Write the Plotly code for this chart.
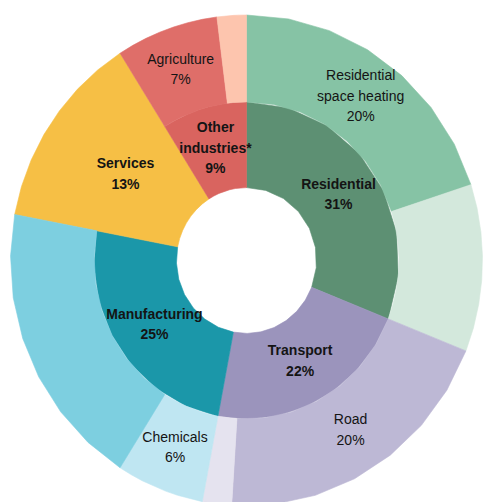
import numpy as np
import plotly.graph_objects as go

# Inner ring: sectors
sectors = ["Residential", "Transport", "Manufacturing", "Services", "Other industries*"]
sector_lines = [["Residential"], ["Transport"], ["Manufacturing"], ["Services"], ["Other", "industries*"]]
sector_values = [31, 22, 25, 13, 9]
sector_colors = ["#5d9073", "#9b94bc", "#1b97a9", "#f6bf45", "#d9645f"]

# Outer ring: sub-uses (empty name = unlabelled remainder of the sector)
sub_lines = [["Residential", "space heating"], [], ["Road"], [], ["Chemicals"], [], None, ["Agriculture"], []]
sub_values = [20, 11, 20, 2, 6, 19, 13, 7, 2]
sub_colors = ["#86c3a5", "#d3e8dc", "#bdb8d5", "#e5e3ef", "#bfe6f2", "#7dcfe0", "#f6bf45", "#df6e69", "#fdc5ae"]
# Sectors whose colour runs through both rings as a single wedge
full_span = ["Services"]

R_HOLE, R_MID, R_OUT = 0.297, 0.646, 1.0
PX_PER_UNIT_Y = 245.5
LINE_GAP = 20.5 / PX_PER_UNIT_Y
FONT = "Arial, Liberation Sans, sans-serif"


def wedge(a0, a1, r0, r1):
    t = np.linspace(a0, a1, max(8, int((a1 - a0) * 2)))
    xs = np.concatenate([r1 * np.sin(t), r0 * np.sin(t[::-1])])
    ys = np.concatenate([r1 * np.cos(t), r0 * np.cos(t[::-1])])
    return np.append(xs, xs[0]), np.append(ys, ys[0])


def angles(values):
    edges = np.concatenate([[0], np.cumsum(values)]) / 100.0 * 2 * np.pi
    return edges[:-1], edges[1:]


fig = go.Figure()
txt_x, txt_y, txt_s, txt_bold = [], [], [], []


def add_label(lines, value, a0, a1, r, bold):
    mid = (a0 + a1) / 2
    cx, cy = r * np.sin(mid), r * np.cos(mid)
    rows = lines + [f"{value}%"]
    n = len(rows)
    for i, s in enumerate(rows):
        txt_x.append(cx)
        txt_y.append(cy + ((n - 1) / 2 - i) * LINE_GAP)
        txt_s.append(s)
        txt_bold.append(bold)


s0, s1 = angles(sector_values)
o0, o1 = angles(sub_values)

for k, (name, val, col) in enumerate(zip(sectors, sector_values, sector_colors)):
    outer_r = R_OUT if name in full_span else R_MID
    x, y = wedge(s0[k], s1[k], R_HOLE, outer_r)
    fig.add_trace(go.Scatter(x=x, y=y, fill="toself", fillcolor=col, mode="lines",
                             line=dict(color=col, width=0.6), hoverinfo="skip"))
    lab_r = 0.62 if name in full_span else (R_HOLE + R_MID) / 2
    add_label(sector_lines[k], val, s0[k], s1[k], lab_r, True)

for k, (lines, val, col) in enumerate(zip(sub_lines, sub_values, sub_colors)):
    if lines is None:
        continue
    x, y = wedge(o0[k], o1[k], R_MID, R_OUT)
    fig.add_trace(go.Scatter(x=x, y=y, fill="toself", fillcolor=col, mode="lines",
                             line=dict(color=col, width=0.6), hoverinfo="skip"))
    if lines:
        add_label(lines, val, o0[k], o1[k], (R_MID + R_OUT) / 2, False)

for bold in (True, False):
    idx = [i for i, b in enumerate(txt_bold) if b == bold]
    fig.add_trace(go.Scatter(
        x=[txt_x[i] for i in idx], y=[txt_y[i] for i in idx],
        text=[f"<b>{txt_s[i]}</b>" if bold else txt_s[i] for i in idx],
        mode="text", textposition="middle center",
        textfont=dict(family=FONT, size=14, color="#141414"), hoverinfo="skip"))

fig.update_layout(
    width=483, height=502, margin=dict(l=0, r=0, t=0, b=0),
    paper_bgcolor="white", plot_bgcolor="white", showlegend=False,
    xaxis=dict(range=[-1.0445, 1.0021], visible=False, fixedrange=True),
    yaxis=dict(range=[-0.9837, 1.0611], visible=False, fixedrange=True),
    hovermode=False,
)

fig.write_html("out.html")
